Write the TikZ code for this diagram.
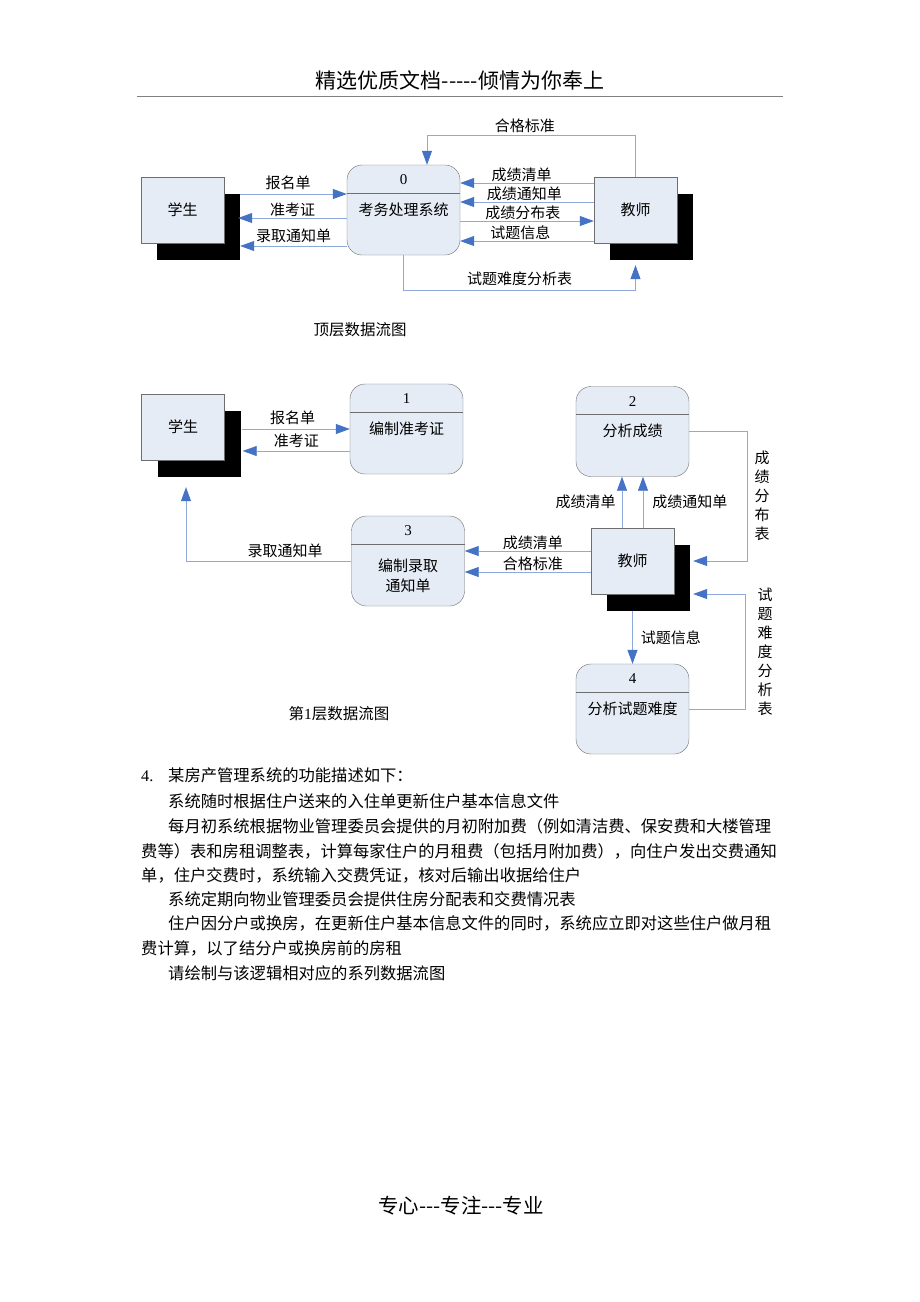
\documentclass[tikz,border=0pt]{standalone}
\usepackage{fontspec}
\setmainfont{Noto Sans CJK SC}
\newfontfamily\numfont{Liberation Serif}
\usepackage{tikz}
\usetikzlibrary{positioning,arrows.meta,shadows}
\definecolor{boxfill}{HTML}{E6ECF6}
\definecolor{boxline}{HTML}{6E6E6E}
\definecolor{flowline}{HTML}{8EA9DB}
\definecolor{arrowblue}{HTML}{4472C4}

\begin{document}
\begin{tikzpicture}[x=1pt,y=-1pt,font=\fontsize{15}{18}\selectfont,
  entity/.style={rectangle, draw=boxline, fill=boxfill, minimum width=83pt, minimum height=66pt, inner sep=0pt,
    drop shadow={shadow xshift=16pt, shadow yshift=-17pt, fill=black, opacity=1}},
  process/.style={rectangle, rounded corners=15pt, draw=boxline, fill=boxfill, minimum width=113pt, minimum height=90pt, inner sep=0pt},
  flow/.style={draw=flowline, line width=0.8pt, -{Triangle[length=14pt,width=10pt,fill=arrowblue,color=arrowblue]}},
  lab/.style={inner sep=1pt},
  vlab/.style={inner sep=1pt, align=center, font=\fontsize{15}{19}\selectfont},
  body/.style={anchor=base west, inner sep=0pt, font=\fontsize{16.3}{20}\selectfont}]

\fill[white] (0,0) rectangle (920,1302);
\useasboundingbox (0,0) rectangle (920,1302);

% page header
\node[font=\fontsize{21}{24}\selectfont] (head) at (460,80) {精选优质文档-{}-{}-{}-{}-倾情为你奉上};
\draw[gray, line width=0.8pt] (137,96) -- (783,96);

% 1. top level diagram
\node[entity] (stu0) at (182.5,210) {学生};
\node[process] (p0) at (403.5,210) {};
\draw[boxline] ([yshift=-28pt]p0.north west) -- ([yshift=-28pt]p0.north east);
\node (p0num) at ([yshift=-15pt]p0.north) {\numfont 0};
\node (p0txt) at ([yshift=-45pt]p0.north) {考务处理系统};
\node[entity] (tea0) at (635.5,210) {教师};

\draw[flow] ([shift={(16pt,16pt)}]stu0.east) -- node[lab,above=3pt,pos=.45] {报名单} ([yshift=16pt]p0.west);
\draw[flow] ([yshift=-8pt]p0.west) -- node[lab,above] {准考证} ([shift={(14pt,-8pt)}]stu0.east);
\draw[flow] ([yshift=-36pt]p0.west) -- node[lab,above=1.5pt] {录取通知单} ([shift={(16pt,-36pt)}]stu0.east);
\draw[flow] (tea0.north) -- ++(0,-41) -| node[lab,above=1.5pt,pos=.265] {合格标准} ([xshift=23.5pt]p0.north);
\draw[flow] ([yshift=27pt]tea0.west) -- node[lab,above,pos=.54] {成绩清单} ([yshift=27pt]p0.east);
\draw[flow] ([yshift=8pt]tea0.west) -- node[lab,above,pos=.52] {成绩通知单} ([yshift=8pt]p0.east);
\draw[flow] ([yshift=-11pt]p0.east) -- node[lab,above,pos=.47] {成绩分布表} ([yshift=-11pt]tea0.west);
\draw[flow] ([yshift=-31pt]tea0.west) -- node[lab,above,pos=.55] {试题信息} ([yshift=-31pt]p0.east);
\draw[flow] (p0.south) -- ++(0,35) -| node[lab,above=3pt,pos=.25] {试题难度分析表} ([yshift=-22pt]tea0.south);

\node[font=\fontsize{15.5}{18}\selectfont] (cap0) at (360,330) {顶层数据流图};

% 2. first level diagram
\node[entity] (stu1) at (183,427) {学生};
\node[process] (p1) at (406.5,429) {};
\draw[boxline] ([yshift=-28pt]p1.north west) -- ([yshift=-28pt]p1.north east);
\node (p1num) at ([yshift=-15pt]p1.north) {\numfont 1};
\node (p1txt) at ([yshift=-45pt]p1.north) {编制准考证};

\node[process] (p2) at (632.5,431.5) {};
\draw[boxline] ([yshift=-28pt]p2.north west) -- ([yshift=-28pt]p2.north east);
\node (p2num) at ([yshift=-15pt]p2.north) {\numfont 2};
\node (p2txt) at ([yshift=-45pt]p2.north) {分析成绩};

\node[process] (p3) at (408,561) {};
\draw[boxline] ([yshift=-28pt]p3.north west) -- ([yshift=-28pt]p3.north east);
\node (p3num) at ([yshift=-15pt]p3.north) {\numfont 3};
\node[align=center, font=\fontsize{15}{20}\selectfont] (p3txt) at ([yshift=-60pt]p3.north) {编制录取\\通知单};

\node[entity] (tea1) at (632.5,561) {教师};

\node[process] (p4) at (632.5,709) {};
\draw[boxline] ([yshift=-28pt]p4.north west) -- ([yshift=-28pt]p4.north east);
\node (p4num) at ([yshift=-15pt]p4.north) {\numfont 4};
\node (p4txt) at ([yshift=-45pt]p4.north) {分析试题难度};

\draw[flow] ([shift={(17pt,-2pt)}]stu1.east) -- node[lab,above=3pt,pos=.47] {报名单} (p1.west);
\draw[flow] ([yshift=-22pt]p1.west) -- node[lab,above=1.5pt] {准考证} ([shift={(18pt,-24pt)}]stu1.east);
\draw[flow] (p3.west) -| node[lab,above=1.5pt,pos=.2] {录取通知单} ([shift={(3pt,-27pt)}]stu1.south);
\draw[flow] ([xshift=-10.5pt]tea1.north) -- node[lab,left=5pt] {成绩清单} ([xshift=-10.5pt]p2.south);
\draw[flow] ([xshift=10.5pt]tea1.north) -- node[lab,right=8pt] {成绩通知单} ([xshift=10.5pt]p2.south);
\draw[flow] (p2.east) -- ++(58,0) |- node[vlab,right=6pt,pos=.25] {成\\绩\\分\\布\\表} ([xshift=19pt]tea1.east);
\draw[flow] ([yshift=10pt]tea1.west) -- node[lab,above,pos=.46] {成绩清单} ([yshift=10pt]p3.east);
\draw[flow] ([yshift=-11pt]tea1.west) -- node[lab,above,pos=.46] {合格标准} ([yshift=-11pt]p3.east);
\draw[flow] (p4.east) -- ++(56,0) |- node[vlab,right=11pt,pos=.25] {试\\题\\难\\度\\分\\析\\表} ([shift={(19pt,-33pt)}]tea1.east);
\draw[flow] ([yshift=-17pt]tea1.south) -- node[lab,right=7pt] {试题信息} (p4.north);

\node[font=\fontsize{15.5}{18}\selectfont] (cap1) at (339,714) {第{\numfont 1}层数据流图};

% exercise text
\node[body] (num4) at (141,781) {\numfont 4.};
\foreach \bx/\by/\btxt [count=\i] in {
  168/781/{某房产管理系统的功能描述如下：},
  168/807/{系统随时根据住户送来的入住单更新住户基本信息文件},
  168/832/{每月初系统根据物业管理委员会提供的月初附加费（例如清洁费、保安费和大楼管理},
  141/857/{费等）表和房租调整表，计算每家住户的月租费（包括月附加费），向住户发出交费通知},
  141/881/{单，住户交费时，系统输入交费凭证，核对后输出收据给住户},
  168/905/{系统定期向物业管理委员会提供住房分配表和交费情况表},
  168/929/{住户因分户或换房，在更新住户基本信息文件的同时，系统应立即对这些住户做月租},
  141/954/{费计算，以了结分户或换房前的房租},
  168/979/{请绘制与该逻辑相对应的系列数据流图}}
  \node[body] (line\i) at (\bx,\by) {\btxt};

% page footer
\node[font=\fontsize{20.5}{24}\selectfont] (foot) at (461,1206) {专心-{}-{}-专注-{}-{}-专业};

\end{tikzpicture}
\end{document}
